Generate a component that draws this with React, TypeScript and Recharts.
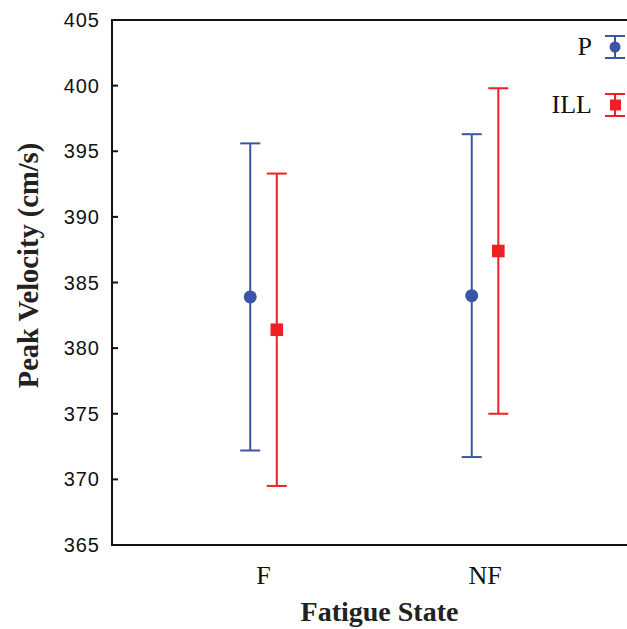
import React from 'react';
import {
  ScatterChart,
  Scatter,
  XAxis,
  YAxis,
  ErrorBar,
  ReferenceLine,
} from 'recharts';

const categories = ['F', 'NF'];
const pMean = [383.9, 384.0];
const pErr = [11.7, 12.3];
const illMean = [381.4, 387.4];
const illErr = [11.9, 12.4];
const yTicks = [365, 370, 375, 380, 385, 390, 395, 400, 405];

const BLUE = '#3a55a5';
const RED = '#ee2024';
const SERIF = '"Liberation Serif", "Times New Roman", serif';
const SANS = '"Liberation Sans", Arial, sans-serif';

// side-by-side offset of the two groups within a category
const dodge = 0.06;

const pData = categories.map((c, i) => ({ x: i + 1 - dodge, y: pMean[i], err: pErr[i] }));
const illData = categories.map((c, i) => ({ x: i + 1 + dodge, y: illMean[i], err: illErr[i] }));

const series = [
  { name: 'P', color: BLUE, shape: 'circle' },
  { name: 'ILL', color: RED, shape: 'square' },
];

const CircleDot = (props: any) => (
  <circle cx={props.cx} cy={props.cy} r={6.5} fill={BLUE} />
);

const SquareDot = (props: any) => (
  <rect x={props.cx - 6.3} y={props.cy - 6.3} width={12.6} height={12.6} fill={RED} />
);

const YTick = ({ x, y, payload }: any) => (
  <g>
    <text
      x={x}
      y={y}
      textAnchor="end"
      dominantBaseline="central"
      fontFamily={SANS}
      fontSize={20}
      letterSpacing={1}
      fill="#111"
    >
      {payload.value}
    </text>
    <line x1={x + 11} x2={x + 18} y1={y} y2={y} stroke="#111" strokeWidth={2} />
  </g>
);

const XTick = ({ x, y, payload }: any) => (
  <text x={x} y={y + 37} textAnchor="middle" fontFamily={SERIF} fontSize={26} fill="#111">
    {categories[Math.round(payload.value) - 1]}
  </text>
);

const XTitle = ({ viewBox }: any) => (
  <text
    x={viewBox.x + viewBox.width / 2 + 10}
    y={viewBox.y + 76}
    textAnchor="middle"
    fontFamily={SERIF}
    fontWeight="bold"
    fontSize={28}
    fill="#222"
  >
    Fatigue State
  </text>
);

const YTitle = ({ viewBox }: any) => {
  const cx = 28;
  const cy = viewBox.y + viewBox.height / 2 - 17;
  return (
    <text
      x={cx}
      y={cy}
      transform={`rotate(-90 ${cx} ${cy})`}
      textAnchor="middle"
      dominantBaseline="central"
      fontFamily={SERIF}
      fontWeight="bold"
      fontSize={28.5}
      fill="#222"
    >
      Peak Velocity (cm/s)
    </text>
  );
};

const LegendOverlay = () => (
  <svg width={627} height={140} style={{ position: 'absolute', left: 0, top: 0, pointerEvents: 'none' }}>
    {series.map((s, i) => {
      const cy = 47 + i * 58;
      return (
        <g key={s.name}>
          <text x={592} y={cy + 8} textAnchor="end" fontFamily={SERIF} fontSize={26} fill="#111">
            {s.name}
          </text>
          <line x1={615} x2={615} y1={cy - 11} y2={cy + 11} stroke={s.color} strokeWidth={2} />
          <line x1={605} x2={625} y1={cy - 11} y2={cy - 11} stroke={s.color} strokeWidth={2} />
          <line x1={605} x2={625} y1={cy + 11} y2={cy + 11} stroke={s.color} strokeWidth={2} />
          {s.shape === 'circle' ? (
            <circle cx={615} cy={cy} r={5.5} fill={s.color} />
          ) : (
            <rect x={610} y={cy - 5.5} width={11} height={11} fill={s.color} />
          )}
        </g>
      );
    })}
  </svg>
);

export default function App() {
  return (
    <div style={{ position: 'absolute', left: 0, top: 0, width: 627, height: 629, background: '#fff' }}>
      <ScatterChart width={627} height={629} margin={{ top: 20, right: 0, bottom: 0, left: 0 }}>
        <XAxis
          type="number"
          dataKey="x"
          domain={[0.316, 2.641]}
          ticks={[1, 2]}
          allowDataOverflow
          height={84}
          tickLine={false}
          tickSize={0}
          tick={<XTick />}
          axisLine={{ stroke: '#111', strokeWidth: 2 }}
          label={<XTitle />}
        />
        <YAxis
          type="number"
          dataKey="y"
          domain={[365, 405]}
          ticks={yTicks}
          allowDataOverflow
          width={112}
          tickLine={false}
          tickSize={0}
          tickMargin={12}
          tick={<YTick />}
          axisLine={{ stroke: '#111', strokeWidth: 2 }}
          label={<YTitle />}
        />
        <ReferenceLine y={405} stroke="#111" strokeWidth={2} />
        <Scatter name="P" data={pData} fill={BLUE} shape={<CircleDot />} isAnimationActive={false}>
          <ErrorBar dataKey="err" direction="y" width={10} stroke={BLUE} strokeWidth={2} isAnimationActive={false} />
        </Scatter>
        <Scatter name="ILL" data={illData} fill={RED} shape={<SquareDot />} isAnimationActive={false}>
          <ErrorBar dataKey="err" direction="y" width={10} stroke={RED} strokeWidth={2} isAnimationActive={false} />
        </Scatter>
      </ScatterChart>
      <LegendOverlay />
    </div>
  );
}
